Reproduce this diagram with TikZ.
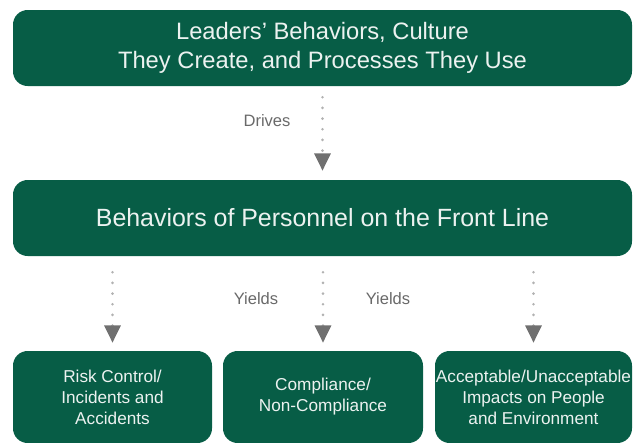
\documentclass[tikz,border=0pt]{standalone}
\usepackage{fontspec}
\setmainfont{Liberation Sans}
\usepackage{xcolor}
\usepackage{tikz}
\usetikzlibrary{arrows.meta}

\definecolor{boxgreen}{RGB}{7,93,70}
\definecolor{boxtext}{RGB}{236,242,240}
\definecolor{dotgray}{RGB}{178,178,178}
\definecolor{tipgray}{RGB}{112,112,112}
\definecolor{labelgray}{RGB}{105,105,105}

\begin{document}
\begin{tikzpicture}[x=0.75pt,y=0.75pt,yscale=-1,xscale=1,
  greenbox/.style={fill=boxgreen, rounded corners=11pt, text=boxtext, align=center, inner sep=0pt},
  flow/.style={dotgray, line width=2.2pt, dash pattern=on 0pt off 8pt, line cap=round, -{Triangle[width=12pt,length=13pt,color=tipgray]}},
  lbl/.style={text=labelgray, font=\fontsize{12.4}{14}\selectfont, inner sep=0.75pt}]
%set diagram size to the reference, 633 x 443
\useasboundingbox (0,0) rectangle (633,443);

% Top box
\node [greenbox, minimum width=464.25pt, minimum height=57pt, font=\fontsize{17.8}{21.75}\selectfont] (leaders) at (322.5,48) {Leaders’ Behaviors, Culture\\They Create, and Processes They Use};
% Middle box
\node [greenbox, minimum width=464.25pt, minimum height=57pt, font=\fontsize{18.7}{22}\selectfont] (frontline) at (322.5,218) {Behaviors of Personnel on the Front Line};

% Bottom boxes
\node [greenbox, minimum width=149.25pt, minimum height=69pt, font=\fontsize{12.9}{15.75}\selectfont] (risk) at (112.5,397) {Risk Control/\\Incidents and\\Accidents};
\node [greenbox, minimum width=150pt, minimum height=69pt, font=\fontsize{12.9}{15.75}\selectfont] (compliance) at (323,397) {Compliance/\\Non-Compliance};
\node [greenbox, minimum width=147.75pt, minimum height=69pt, font=\fontsize{12.9}{15.75}\selectfont] (impacts) at (533.5,397) {Acceptable/Unacceptable\\Impacts on People\\and Environment};

% Connectors
\draw [flow, shorten <=8.25pt, shorten >=6.75pt] (leaders) -- (frontline);
\draw [flow, shorten <=12pt, shorten >=6pt] (frontline.south -| risk) -- (risk);
\draw [flow, shorten <=12pt, shorten >=6pt] (frontline.south -| compliance) -- (compliance);
\draw [flow, shorten <=12pt, shorten >=6pt] (frontline.south -| impacts) -- (impacts);

% Text Node
\node [lbl] (drives) at (267,121) {Drives};
% Text Node
\node [lbl] (yieldsleft) at (256,299) {Yields};
% Text Node
\node [lbl] (yieldsright) at (388,299) {Yields};

\end{tikzpicture}
\end{document}
